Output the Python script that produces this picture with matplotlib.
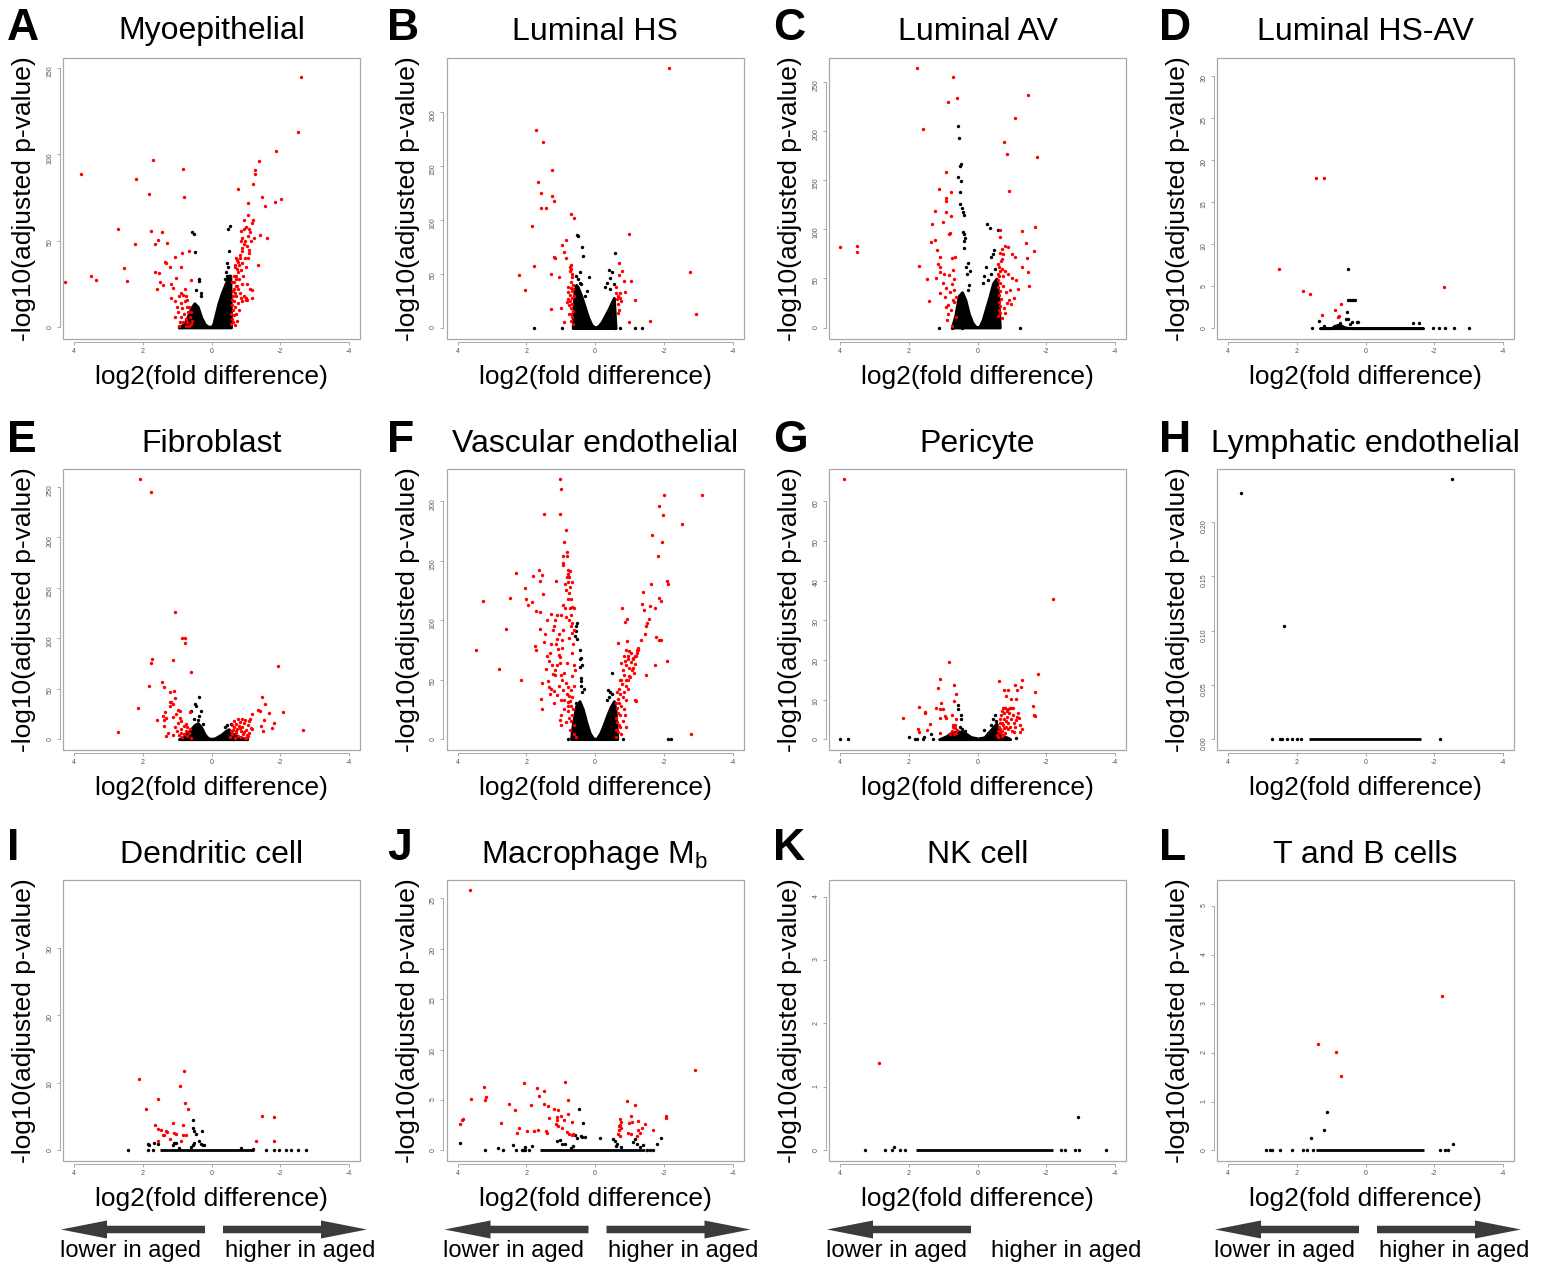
import matplotlib
matplotlib.use("Agg")
import matplotlib.pyplot as plt
from matplotlib.patches import Rectangle, FancyArrow

plt.rcParams['font.family'] = ['Liberation Sans', 'DejaVu Sans']

# panel letters and titles
letters = ["A", "B", "C", "D", "E", "F", "G", "H", "I", "J", "K", "L"]
titles = ["Myoepithelial", "Luminal HS", "Luminal AV", "Luminal HS-AV",
          "Fibroblast", "Vascular endothelial", "Pericyte", "Lymphatic endothelial",
          "Dendritic cell", r"Macrophage M$_\mathregular{b}$", "NK cell", "T and B cells"]

# y axis ticks / limits per panel
yticks = [[0, 50, 100, 150], [0, 50, 100, 150, 200], [0, 50, 100, 150, 200, 250],
          [0, 5, 10, 15, 20, 25, 30], [0, 50, 100, 150, 200, 250], [0, 50, 100, 150, 200],
          [0, 10, 20, 30, 40, 50, 60], [0, 0.05, 0.10, 0.15, 0.20], [0, 10, 20, 30],
          [0, 5, 10, 15, 20, 25], [0, 1, 2, 3, 4], [0, 1, 2, 3, 4, 5]]
ylims = [(-6.4, 155.8), (-9.6, 249.5), (-11.2, 274.5), (-1.23, 32.2), (-10.2, 267.8),
         (-8.7, 227), (-2.6, 68.2), (-0.0095, 0.2488), (-1.53, 40.05), (-1.0, 26.8),
         (-0.158, 4.26), (-0.205, 5.53)]
xticks = [4, 2, 0, -2, -4]

# ---- A: Myoepithelial ----
red_A = [(-2.60, 145), (-2.52, 113), (-1.89, 102), (-1.38, 96), (-1.27, 91), (-1.27, 89), (-1.21, 83),
         (-0.78, 80), (-1.46, 75.5), (-2.02, 74), (-1.84, 72.6), (-1.07, 72), (-1.56, 70), (-1.21, 62),
         (-1.17, 60.6), (-1.10, 57), (-0.95, 56.8), (-1.40, 53.5), (-1.60, 52), (-1.23, 52), (-0.87, 56),
         (-1.35, 36), (-1.18, 21.6), (-1.19, 16.8), (-1.0, 17), (-1.04, 16), (-0.68, 1.4),
         (4.25, 26), (3.80, 88.8), (3.50, 30), (3.37, 27.4), (2.72, 57), (2.56, 34.6), (2.46, 27), (2.20, 86),
         (2.22, 48), (1.83, 77.4), (1.70, 97), (1.75, 56), (1.44, 55.4), (1.56, 50.6), (1.65, 48), (1.29, 48.8),
         (0.83, 91.5), (0.80, 75.3), (0.85, 43), (0.65, 44.4), (1.34, 38), (1.32, 37), (1.21, 35), (1.07, 40.5),
         (0.89, 34.7), (1.63, 32), (1.54, 31.7), (1.50, 26.4), (1.41, 24.5), (1.60, 22.4), (1.17, 25), (1.12, 23),
         (1.02, 28.4), (0.60, 27.4), (1.18, 16.8), (1.07, 15.3),
         (0.95, 18), (0.9, 14), (0.85, 11), (0.8, 8), (0.75, 5), (0.7, 3), (0.65, 1), (0.6, 2), (0.62, 6),
         (0.68, 9), (0.72, 12), (0.78, 15), (0.88, 6), (0.92, 3), (0.98, 9), (1.0, 12), (0.82, 19), (0.7, 16),
         (0.66, 12), (0.6, 9), (0.58, 4), (0.75, 1), (0.84, 3), (0.96, 1), (1.05, 6), (0.9, 20), (0.76, 22),
         (0.73, 18),
         (-0.57, 2), (-0.6, 5), (-0.58, 8), (-0.62, 10), (-0.6, 13), (-0.65, 15), (-0.62, 18), (-0.68, 20),
         (-0.64, 22), (-0.7, 24), (-0.66, 26), (-0.72, 28), (-0.7, 30), (-0.76, 32), (-0.74, 34), (-0.8, 36),
         (-0.78, 38), (-0.84, 40), (-0.82, 42), (-0.88, 44), (-0.9, 46), (-0.94, 48), (-0.98, 50), (-1.02, 47),
         (-0.96, 40), (-0.9, 37), (-0.86, 33), (-0.8, 28), (-0.75, 24), (-0.7, 18), (-0.68, 12), (-0.66, 7),
         (-0.63, 3), (-0.72, 8), (-0.76, 14), (-0.82, 20), (-0.88, 25), (-0.92, 30), (-1.0, 35), (-1.05, 40),
         (-1.08, 45), (-0.73, 4), (-0.8, 10), (-0.9, 15), (-0.95, 18), (-0.85, 17), (-0.78, 22), (-0.74, 39),
         (-0.69, 35), (-1.1, 43), (-1.15, 50), (-1.12, 22), (-1.0, 16), (-1.02, 25), (-0.6, 26), (-0.65, 30),
         (-0.68, 36), (-0.62, 21), (-0.6, 16), (-0.7, 40), (-0.85, 50), (-0.9, 52), (-1.05, 53), (-1.12, 55),
         (-0.94, 62), (-1.05, 65), (-1.0, 58)]
blk_A = [(0.56, 55), (0.50, 54), (0.49, 43.4), (0.37, 28), (0.36, 27), (0.44, 21.6), (0.32, 18), (0.3, 20),
         (-0.53, 58.7), (-0.49, 57), (-0.51, 44), (-0.44, 37), (-0.48, 35), (-0.42, 32), (-0.46, 30),
         (-0.40, 28), (0.95, 0), (0.85, 0.5)]
core_A_x = [0.95, 0.8, 0.7, 0.6, 0.5, 0.4, 0.3, 0.2, 0.1, 0.0, -0.05, -0.1, -0.2, -0.3, -0.4, -0.5, -0.55, -0.57]
core_A_y = [0, 2, 6, 11, 14, 12, 6, 2, 0.5, 0.5, 2, 6, 14, 20, 25, 30, 30, 0]

# ---- B: Luminal HS ----
red_B = [(-2.15, 240), (1.71, 183), (1.52, 171.5), (1.26, 146.5), (1.66, 134.8), (1.57, 125), (1.25, 121.8),
         (1.19, 117.5), (1.57, 111), (1.43, 111), (0.71, 105), (0.61, 101.7), (1.84, 94), (-1.0, 86.6),
         (0.84, 81.3), (0.95, 76.7), (0.89, 70.5), (1.18, 66), (1.16, 64.5), (0.84, 64.6), (1.78, 57.8),
         (2.21, 49.5), (1.29, 50.4), (1.04, 47), (2.03, 35), (-2.75, 51.6), (-2.95, 12.7), (-1.16, 26),
         (-1.04, 43.3), (-0.71, 60), (-0.79, 52.6), (-0.69, 49), (-0.85, 43.3), (-0.87, 33.4), (-0.68, 30),
         (-0.6, 32), (-0.72, 28), (-0.76, 25), (-0.66, 22), (-0.7, 17), (-0.68, 14), (-0.62, 38), (-0.64, 27),
         (-0.73, 32), (-0.99, 5.3), (-1.61, 6.2), (1.28, 17.3), (0.99, 18.2), (0.91, 5.9),
         (0.74, 56), (0.70, 55), (0.72, 53), (0.68, 50), (0.66, 47), (0.71, 43), (0.65, 40), (0.7, 37),
         (0.66, 34), (0.73, 31), (0.68, 28), (0.72, 25), (0.66, 22), (0.7, 19), (0.64, 16), (0.71, 13),
         (0.67, 10), (0.7, 7), (0.65, 4), (0.78, 27), (0.77, 21), (0.75, 13), (0.62, 30), (0.63, 36),
         (0.8, 33), (0.69, 58), (0.82, 24), (0.8, 38)]
blk_B = [(0.53, 85.6), (0.49, 84.7), (0.39, 74.8), (0.34, 67), (0.43, 51.6), (0.17, 47.6), (0.42, 40.8),
         (0.24, 34.6), (0.5, 45), (0.55, 48), (0.45, 42), (0.3, 30), (-0.57, 69.6), (-0.40, 53.8),
         (-0.50, 51.6), (-0.43, 46.4), (-0.55, 40.8), (-0.36, 41.4), (-0.3, 38), (-0.45, 36), (1.78, 0),
         (0.97, 0), (-0.58, 0), (-0.72, 0), (-1.15, 0), (-1.36, 0)]
core_B_x = [0.65, 0.6, 0.55, 0.5, 0.4, 0.3, 0.2, 0.1, 0.0, -0.1, -0.2, -0.3, -0.4, -0.5, -0.55, -0.6]
core_B_y = [0, 35, 40, 38, 30, 20, 10, 3, 0.5, 2, 6, 12, 18, 25, 28, 0]

# ---- C: Luminal AV ----
red_C = [(1.75, 264), (0.72, 255), (0.60, 234), (0.86, 230), (-1.47, 237), (-1.10, 213), (1.59, 202),
         (-0.76, 189), (-0.85, 176.5), (-1.73, 174), (0.92, 158.5), (-0.93, 139.5), (1.11, 141.5), (0.78, 138),
         (0.91, 132), (0.91, 128.6), (1.23, 118.7), (0.91, 117.7), (0.77, 113.6), (1.32, 105.8), (0.99, 107.5),
         (0.81, 96), (0.83, 95), (1.24, 89), (1.34, 86.7), (-1.67, 102.4), (-1.30, 98.3), (-0.64, 99.7),
         (-0.66, 92), (-1.40, 86), (-1.64, 78), (-0.90, 81.6), (-0.8, 83), (-0.66, 76), (-0.75, 75), (-0.99, 75),
         (-1.08, 72), (-1.44, 70.4), (-1.29, 62), (-1.47, 56.8), (-1.50, 42.5), (-1.13, 48.3), (-1.17, 38.8),
         (-0.96, 23.5), (-0.80, 15), (1.17, 79), (1.09, 71.4), (1.15, 64.3), (0.74, 70.4), (0.65, 72),
         (1.70, 63), (1.47, 49), (1.40, 27.2), (1.09, 62), (1.09, 56.8), (0.98, 55), (0.83, 53.7), (1.2, 50),
         (1.0, 45.6), (0.71, 58.5), (0.69, 49.7), (0.93, 40), (0.95, 31), (0.92, 21), (0.85, 14), (0.74, 1.4),
         (1.1, 34.7), (0.86, 22.8), (0.67, 38), (0.62, 31), (0.67, 26), (0.77, 17.7), (0.62, 11), (3.99, 82.3),
         (3.50, 83), (3.50, 77.2), (0.8, 36), (0.75, 44), (0.72, 28), (0.88, 8),
         (-0.6, 65), (-0.62, 62), (-0.64, 58), (-0.6, 55), (-0.63, 52), (-0.61, 48), (-0.64, 45), (-0.6, 41),
         (-0.65, 37), (-0.62, 33), (-0.67, 29), (-0.63, 26), (-0.66, 22), (-0.62, 18), (-0.65, 15), (-0.6, 12),
         (-0.75, 42), (-0.83, 36), (-0.93, 28), (-0.78, 20), (-0.7, 10), (-0.74, 52), (-0.72, 60), (-0.8, 58),
         (-0.9, 55), (-1.0, 50), (-1.05, 30), (-0.85, 25), (-0.95, 38), (-0.68, 68), (-0.7, 80), (-0.72, 70)]
blk_C = [(0.56, 205.4), (0.54, 193.5), (0.48, 167), (0.50, 165), (0.57, 153.7), (0.49, 149), (0.50, 137.8),
         (0.52, 126), (0.45, 122), (0.43, 118), (0.40, 115), (0.42, 97), (0.38, 95), (0.36, 91), (0.39, 88),
         (0.40, 80.6), (0.28, 66), (0.33, 62), (0.23, 58), (0.31, 54), (0.25, 43), (0.28, 38), (-0.28, 105.8),
         (-0.35, 101.7), (-0.59, 99.3), (-0.49, 79), (-0.45, 75), (-0.40, 72), (-0.25, 62), (-0.20, 52),
         (-0.15, 45), (-0.3, 48), (-0.4, 55), (-0.5, 60), (1.12, 0), (-1.24, 0), (0.75, 0), (0.45, 0)]
core_C_x = [0.75, 0.65, 0.55, 0.45, 0.35, 0.25, 0.15, 0.05, -0.05, -0.15, -0.25, -0.35, -0.45, -0.55, -0.6, -0.65]
core_C_y = [0, 12, 32, 36, 28, 14, 5, 0.5, 0.5, 8, 20, 32, 45, 50, 35, 0]

# ---- D: Luminal HS-AV ----
red_D = [(1.44, 17.9), (1.20, 17.9), (2.51, 7.0), (1.83, 4.4), (1.61, 4.1), (-2.27, 4.9), (0.71, 2.9),
         (0.88, 2.2), (1.28, 1.6), (0.76, 1.43), (0.80, 1.3)]
blk_D = [(0.52, 7.0), (0.5, 3.4), (0.45, 3.4), (0.40, 3.4), (0.35, 3.4), (0.31, 3.4), (0.55, 1.9),
         (0.57, 1.1), (0.50, 1.1), (1.34, 0.83), (0.26, 0.71), (0.22, 0.71), (1.22, 0.3), (0.8, 0.4),
         (0.75, 0.6), (0.7, 0.3), (-1.38, 0.6), (-1.57, 0.6), (-1.96, 0), (-2.13, 0), (-2.31, 0), (-2.58, 0),
         (-3.0, 0), (1.57, 0), (0.45, 0.5), (0.4, 0.7)]
core_D_x = [1.32, 1.0, 0.9, 0.75, 0.6, 0.4, -1.67]
core_D_y = [0, 0, 0.3, 0.4, 0.1, 0, 0]

# ---- E: Fibroblast ----
red_E = [(2.09, 257.6), (1.77, 244.7), (1.06, 126), (0.85, 100.4), (0.78, 100), (0.76, 95.4), (1.72, 79.3),
         (1.77, 76), (1.11, 78.6), (0.61, 66.4), (-1.92, 73), (1.81, 53.2), (1.44, 56.8), (1.37, 51.8),
         (1.22, 47.2), (1.10, 47.6), (1.05, 40.6), (2.15, 30.7), (2.71, 7), (1.2, 37), (1.17, 36.7), (1.13, 35),
         (1.22, 32.7), (1.35, 27.4), (0.98, 29.4), (0.93, 27.7), (1.03, 25.4), (0.63, 26.7), (1.42, 22.8),
         (1.32, 21), (1.39, 19.5), (1.58, 19.5), (1.12, 22), (0.93, 21), (0.88, 18), (0.97, 16), (0.81, 13.5),
         (1.37, 13), (1.27, 6.3), (1.12, 4.6), (0.88, 6.3), (0.74, 8), (1.32, 3), (0.9, 10), (0.8, 5), (0.7, 3),
         (0.65, 6), (0.62, 10), (0.7, 12), (0.75, 15), (0.85, 2), (1.0, 8), (1.05, 12), (0.95, 4), (0.6, 1.5),
         (-1.46, 42), (-1.57, 34.7), (-1.35, 29.4), (-1.42, 27.7), (-1.67, 26.1), (-2.08, 26.7), (-1.18, 25.4),
         (-1.54, 18.8), (-1.83, 16.2), (-1.77, 11.2), (-1.49, 8.6), (-2.65, 9.2), (-1.43, 13.5), (-1.18, 9.7),
         (-1.06, 3), (-1.01, 1.3),
         (-0.55, 2), (-0.6, 5), (-0.62, 9), (-0.65, 12), (-0.7, 15), (-0.72, 6), (-0.75, 10), (-0.78, 3),
         (-0.8, 13), (-0.82, 17), (-0.85, 8), (-0.88, 20), (-0.9, 12), (-0.92, 5), (-0.95, 16), (-0.98, 19),
         (-1.0, 9), (-1.05, 14), (-1.08, 18), (-1.1, 6), (-1.15, 11), (-0.68, 1), (-0.58, 8), (-0.66, 18),
         (-0.76, 20), (-0.86, 2), (-0.96, 1), (-1.12, 20), (-0.6, 14), (-0.7, 8), (-0.84, 11), (-0.94, 7),
         (-1.02, 4)]
blk_E = [(0.35, 41.6), (0.49, 35), (0.45, 33), (0.30, 27.7), (0.37, 22.8), (0.59, 27.7), (0.5, 20), (0.4, 19),
         (0.25, 15), (-0.57, 15), (-0.45, 14), (-0.38, 12), (-1.03, 0), (-0.62, 0)]
core_E_x = [0.95, 0.8, 0.65, 0.5, 0.4, 0.3, 0.2, 0.1, 0.0, -0.1, -0.2, -0.3, -0.4, -0.5, -0.6, -0.8, -1.0]
core_E_y = [0, 3, 8, 14, 16, 12, 5, 1, 0.5, 1, 3, 5, 8, 10, 6, 2, 0]

# ---- F: Vascular endothelial ----
red_F = [(1.02, 218.8), (0.99, 210.4), (1.02, 189), (1.48, 189), (0.85, 175.6), (0.89, 165.5), (0.82, 157.4),
         (0.92, 154.3), (0.81, 153.8), (0.94, 148), (0.92, 146.5), (0.78, 142), (0.73, 141), (0.8, 139),
         (0.82, 136), (0.75, 136), (0.8, 132), (0.68, 132), (0.72, 128), (0.76, 123), (0.7, 118), (0.66, 111),
         (0.72, 110), (0.6, 110.5), (0.88, 110), (0.92, 113), (0.98, 104), (0.84, 102.8), (0.69, 104),
         (0.66, 98), (0.61, 92), (0.68, 89), (0.92, 92), (0.97, 83), (1.10, 84), (0.95, 76.7), (1.06, 71),
         (1.03, 64), (0.81, 64), (0.66, 53), (0.9, 56), (1.0, 54), (0.95, 50), (0.85, 47), (0.8, 44), (0.7, 41),
         (0.92, 41), (0.82, 38), (0.75, 36), (1.0, 33), (0.9, 33), (0.8, 31), (0.7, 28), (0.9, 25), (0.8, 24),
         (0.68, 20), (0.75, 18), (0.7, 15), (0.85, 14), (0.6, 12), (0.72, 8), (0.6, 4), (0.55, 2), (0.78, 28),
         (0.72, 32), (0.65, 25), (0.68, 35), (0.62, 45), (0.58, 58), (0.62, 62), (0.66, 72), (0.65, 80),
         (0.75, 85), (0.7, 95), (0.75, 100), (0.8, 118), (0.85, 125), (0.88, 130),
         (2.30, 140), (1.63, 142.3), (1.79, 137.5), (1.55, 137.8), (1.60, 132.5), (1.13, 133), (2.05, 126.6),
         (2.0, 117.4), (1.96, 112.6), (1.83, 115.4), (2.48, 119), (1.51, 121.6), (3.27, 116.2), (1.71, 107.6),
         (1.60, 107), (1.29, 105.3), (1.41, 100), (1.16, 99.7), (1.10, 104), (1.6, 92.7), (2.59, 92.2),
         (1.22, 91.6), (1.47, 82), (1.27, 80), (1.14, 80), (1.75, 77.9), (1.71, 74.5), (3.47, 74.8), (1.08, 76),
         (1.02, 69), (1.39, 69.7), (1.34, 65.5), (1.1, 62), (2.79, 59), (1.43, 59), (1.22, 55), (1.17, 53.5),
         (2.16, 49.3), (1.36, 48.7), (1.53, 47.3), (1.27, 42.3), (1.19, 40.3), (1.56, 33.9), (1.3, 38),
         (1.35, 44), (1.55, 25), (1.0, 20), (1.02, 16.5), (1.0, 12.3), (1.2, 30), (1.1, 37), (1.05, 45),
         (1.15, 58), (1.25, 62), (1.3, 72), (1.45, 88), (1.2, 95), (1.05, 88),
         (-2.0, 205), (-3.10, 205), (-1.86, 195.5), (-1.99, 188), (-2.54, 181), (-1.65, 171.4), (-1.94, 165.8),
         (-1.84, 154), (-2.10, 133), (-2.13, 130.5), (-1.64, 130), (-1.40, 123.5), (-1.86, 119), (-1.91, 116),
         (-1.36, 113.4), (-1.60, 112.3), (-1.75, 110.4), (-1.43, 108.4), (-0.79, 110.6), (-1.57, 100.6),
         (-1.52, 97.8), (-1.47, 95), (-0.94, 101), (-0.88, 98.6), (-1.45, 88.5), (-1.33, 83), (-1.78, 85.7),
         (-1.86, 83), (-1.93, 83), (-0.94, 82.4), (-0.68, 80.4), (-2.09, 66), (-1.75, 62), (-1.49, 53.8),
         (-1.26, 77), (-1.23, 75), (-1.21, 72), (-1.16, 70), (-1.11, 67), (-0.9, 75), (-0.83, 70), (-0.97, 67),
         (-1.06, 65), (-0.75, 64), (-1.1, 60), (-1.13, 56), (-0.98, 53), (-0.9, 50), (-2.80, 4.2),
         (-0.6, 2), (-0.62, 8), (-0.65, 14), (-0.6, 18), (-0.68, 22), (-0.64, 26), (-0.7, 30), (-0.66, 34),
         (-0.74, 38), (-0.7, 42), (-0.78, 46), (-0.75, 50), (-0.84, 54), (-0.8, 58), (-0.9, 62), (-0.86, 66),
         (-0.95, 70), (-1.0, 74), (-1.05, 72), (-1.1, 68), (-1.0, 60), (-0.95, 50), (-0.9, 45), (-0.85, 40),
         (-0.8, 35), (-0.75, 28), (-0.72, 20), (-0.7, 12), (-0.68, 6), (-0.8, 15), (-0.85, 25), (-0.9, 33),
         (-0.96, 42), (-1.02, 52), (-1.08, 58), (-1.15, 63), (-1.2, 70), (-1.25, 75), (-0.74, 10), (-0.76, 4),
         (-0.88, 20), (-1.15, 32.6), (-1.2, 32), (-0.9, 10), (-0.62, 30), (-0.65, 40), (-0.72, 50)]
blk_F = [(0.51, 97.8), (0.55, 95), (0.56, 91), (0.58, 87), (0.53, 84), (0.45, 75), (0.42, 68), (0.44, 67),
         (0.37, 62.7), (0.44, 61), (0.4, 51), (0.42, 49), (0.41, 45), (0.32, 42), (0.38, 40), (-0.50, 55.7),
         (-0.39, 41.7), (-0.45, 40), (-0.36, 33), (-0.42, 35), (-0.5, 38), (-2.12, 0), (-2.22, 0.5), (-0.8, 0),
         (0.8, 0), (0.55, 30), (0.5, 28)]
core_F_x = [0.7, 0.65, 0.55, 0.45, 0.35, 0.25, 0.15, 0.05, -0.05, -0.15, -0.25, -0.35, -0.45, -0.55, -0.6, -0.65]
core_F_y = [0, 12, 28, 32, 25, 14, 5, 0.5, 0.5, 5, 12, 20, 27, 32, 24, 0]

# ---- G: Pericyte ----
red_G = [(3.88, 65.6), (-2.20, 35.5), (0.83, 19.6), (1.08, 15.2), (0.69, 13.7), (1.14, 12.9), (0.63, 11.5),
         (1.06, 9.2), (0.67, 9.7), (1.69, 8.1), (1.22, 7.9), (1.08, 7.6), (1.01, 7.6), (1.54, 6.8), (1.52, 6.7),
         (2.16, 5.4), (1.08, 5.4), (0.96, 5.8), (0.91, 5.4), (0.74, 6.2), (0.62, 5.1), (1.39, 3.9), (1.74, 2.7),
         (1.71, 1.9), (1.47, 2.4), (1.08, 1.6), (0.7, 3.7), (0.65, 2.8), (0.6, 2.2), (0.75, 2.0), (0.62, 1.6),
         (0.68, 1.2), (0.8, 1.2), (0.72, 3.2), (0.66, 3.5),
         (-0.63, 14.8), (-1.75, 16.5), (-1.30, 15), (-1.09, 13.6), (-0.77, 12.4), (-0.88, 12.4), (-0.83, 10.8),
         (-1.14, 12.4), (-1.27, 13.2), (-1.68, 11.8), (-0.97, 10.2), (-1.13, 10.2), (-1.62, 8.5), (-0.74, 7.9),
         (-0.79, 7.9), (-0.98, 7.9), (-1.03, 7.9), (-1.64, 6), (-1.67, 5.8), (-1.17, 6.6), (-1.21, 5.4),
         (-1.11, 4.8), (-1.23, 1.8), (-1.06, 1.8),
         (-0.58, 1), (-0.6, 2), (-0.62, 3), (-0.64, 4), (-0.66, 5), (-0.68, 6), (-0.7, 7), (-0.72, 2),
         (-0.74, 3.5), (-0.76, 5), (-0.78, 6.5), (-0.8, 1.5), (-0.82, 3), (-0.84, 4.5), (-0.86, 5.5),
         (-0.88, 2.5), (-0.9, 4), (-0.92, 6.5), (-0.95, 3), (-0.98, 5), (-1.0, 2), (-0.65, 1.5), (-0.7, 0.8),
         (-0.75, 1), (-0.6, 0.5), (-0.78, 2.8), (-0.66, 2.5), (-0.72, 4.2), (-0.85, 7), (-0.8, 8), (-0.9, 7.5),
         (-0.95, 7.8), (-1.02, 6), (-1.05, 4), (-1.1, 3), (-1.15, 5.5), (-1.25, 3.5), (-1.3, 2.5)]
blk_G = [(4.0, 0), (3.77, 0), (1.98, 0.6), (1.83, 0), (1.77, 0), (1.59, 0), (1.56, 0.5), (1.35, 1.2), (1.30, 0),
         (0.56, 8.7), (0.57, 7.6), (0.47, 6.2), (0.49, 5), (0.52, 3), (0.45, 2.5), (0.35, 2), (-0.18, 2.4),
         (-0.3, 1.6), (-0.4, 3.7), (-0.45, 5), (-0.5, 6), (-0.55, 4.5), (-1.12, 0.3), (-0.48, 3.2)]
core_G_x = [1.12, 0.9, 0.8, 0.6, 0.4, 0.2, 0.0, -0.2, -0.4, -0.5, -0.55, -0.6, -0.7, -0.9, -0.95]
core_G_y = [0, 0.8, 1.5, 2, 1.8, 0.6, 0.2, 0.5, 2.5, 3.5, 4, 2.5, 1, 0.3, 0]

# ---- H: Lymphatic endothelial ----
red_H = []
blk_H = [(3.61, 0.2264), (-2.51, 0.2399), (2.37, 0.1046), (2.72, 0), (2.49, 0), (2.42, 0), (2.27, 0),
         (2.13, 0), (2.0, 0), (1.88, 0), (-2.17, 0)]
core_H_x = [1.65, -1.6]
core_H_y = [0, 0]

# ---- I: Dendritic cell ----
red_I = [(2.10, 10.5), (0.81, 11.8), (0.93, 9.5), (1.55, 7.6), (0.77, 7.0), (0.67, 6.1), (1.90, 6.1),
         (-1.46, 5.0), (-1.82, 4.9), (1.13, 4.0), (0.82, 3.8), (1.63, 3.7), (1.55, 3.2), (1.47, 3.0),
         (1.32, 2.9), (1.30, 2.7), (1.38, 2.3), (1.41, 2.2), (1.09, 2.5), (1.04, 2.4), (1.20, 1.7), (0.84, 2.3),
         (0.75, 2.3), (0.89, 1.4), (1.57, 1.4), (-1.29, 1.3), (-1.82, 1.3)]
blk_I = [(0.53, 4.4), (0.54, 3.3), (0.28, 2.8), (0.5, 2.9), (0.45, 2.4), (0.36, 1.4), (0.31, 0.9), (0.26, 0.7),
         (0.21, 0.7), (1.86, 0.9), (1.81, 0.8), (1.67, 1.0), (1.55, 0.9), (1.13, 0.8), (1.08, 1.0), (1.03, 1.0),
         (0.5, 1.0), (0.55, 0.7), (-0.85, 0.3), (-1.21, 0.2), (2.42, 0), (1.84, 0), (1.69, 0), (-1.58, 0),
         (-1.82, 0), (-1.95, 0), (-2.16, 0), (-2.31, 0), (-2.52, 0), (-2.75, 0), (0.95, 0.3), (0.6, 0.4)]
core_I_x = [1.5, -1.25]
core_I_y = [0, 0]

# ---- J: Macrophage Mb ----
red_J = [(3.65, 25.76), (-2.91, 8.0), (0.87, 6.75), (2.07, 6.66), (3.22, 6.32), (1.68, 6.23), (1.47, 5.93),
         (1.63, 5.36), (3.17, 5.26), (3.19, 5.0), (3.62, 5.1), (-0.94, 4.93), (0.79, 5.03), (2.50, 4.64),
         (1.85, 4.54), (1.48, 4.57), (1.38, 4.44), (-1.17, 4.54), (2.34, 4.04), (1.19, 4.14), (1.07, 3.97),
         (0.80, 3.58), (-1.06, 3.44), (1.35, 3.25), (1.11, 3.31), (0.99, 3.38), (-2.07, 3.38), (-2.07, 3.18),
         (3.84, 3.15), (3.87, 3.05), (-0.72, 3.15), (-0.77, 2.81), (2.73, 2.72), (1.11, 2.98), (0.89, 2.98),
         (0.68, 2.81), (-1.24, 2.91), (3.94, 2.65), (1.14, 2.58), (1.08, 2.38), (-1.08, 2.81), (-1.0, 2.72),
         (-0.73, 2.55), (-1.45, 2.62), (2.20, 2.25), (0.97, 2.25), (-1.37, 2.22), (-0.71, 2.4), (-0.75, 2.2),
         (-0.69, 2.05), (-1.25, 1.99), (-1.31, 1.72), (-1.69, 2.02), (1.99, 1.92), (1.77, 1.92), (1.65, 1.99),
         (2.26, 1.72), (1.43, 1.92), (1.40, 1.72), (0.82, 1.82), (0.77, 1.66), (0.68, 1.49), (0.63, 1.66),
         (-0.67, 1.66), (-0.73, 1.39), (-0.97, 1.72), (-1.05, 1.66), (-1.22, 1.4)]
blk_J = [(3.92, 0.76), (0.46, 4.07), (0.34, 2.72), (0.4, 1.4), (0.37, 1.3), (0.3, 1.3), (0.58, 1.5), (0.53, 1.2),
         (1.01, 1.0), (1.11, 0.9), (0.97, 0.66), (0.87, 0.66), (-0.15, 1.26), (-0.53, 1.16), (-0.58, 0.9),
         (-0.63, 0.66), (-1.16, 1.16), (-1.21, 0.66), (-1.11, 0.8), (-1.92, 1.26), (-1.79, 0.66), (2.39, 0.56),
         (2.05, 0.33), (2.1, 0.06), (3.2, 0), (2.81, 0.26), (2.69, 0), (2.30, 0), (2.13, 0), (2.03, 0),
         (1.92, 0), (1.84, 0.4), (-1.5, 0), (-1.6, 0), (-1.7, 0), (0.65, 0.4), (0.7, 0.2), (-0.6, 0.4),
         (-0.75, 0.3), (-1.3, 0.3), (-1.4, 0.5)]
core_J_x = [1.6, -1.45]
core_J_y = [0, 0]

# ---- K: NK cell ----
red_K = [(2.86, 1.38)]
blk_K = [(-2.91, 0.52), (2.42, 0.05), (3.26, 0), (2.69, 0), (2.50, 0), (2.25, 0), (2.10, 0), (-2.42, 0),
         (-2.55, 0), (-2.83, 0), (-2.95, 0), (-3.75, 0)]
core_K_x = [1.8, -2.2]
core_K_y = [0, 0]

# ---- L: T and B cells ----
red_L = [(-2.23, 3.15), (1.38, 2.17), (0.87, 2.02), (0.72, 1.52)]
blk_L = [(1.12, 0.78), (1.21, 0.41), (1.60, 0.26), (-2.54, 0.13), (2.89, 0), (2.79, 0), (2.73, 0), (2.49, 0),
         (2.15, 0), (1.81, 0), (1.71, 0), (1.54, 0), (-2.16, 0), (-2.30, 0), (-2.41, 0)]
core_L_x = [1.45, -1.7]
core_L_y = [0, 0]

reds = [red_A, red_B, red_C, red_D, red_E, red_F, red_G, red_H, red_I, red_J, red_K, red_L]
blks = [blk_A, blk_B, blk_C, blk_D, blk_E, blk_F, blk_G, blk_H, blk_I, blk_J, blk_K, blk_L]
cores = [(core_A_x, core_A_y), (core_B_x, core_B_y), (core_C_x, core_C_y), (core_D_x, core_D_y),
         (core_E_x, core_E_y), (core_F_x, core_F_y), (core_G_x, core_G_y), (core_H_x, core_H_y),
         (core_I_x, core_I_y), (core_J_x, core_J_y), (core_K_x, core_K_y), (core_L_x, core_L_y)]

# layout in pixels
W, H = 1546, 1268
col_left = [63, 446.5, 829, 1217]
col_w = 297
row_top = [58, 469, 880]
row_h = 280.5
letter_x = [7, 387, 773, 1159]
letter_base = [40, 452, 860]
title_base = [39.5, 452, 863]
show_right_arrow = [True, True, False, True]

fig = plt.figure(figsize=(W / 100, H / 100), dpi=100)
GRAY = '#9a9a9a'

for i in range(12):
    r, c = divmod(i, 4)
    ax = fig.add_axes([col_left[c] / W, 1 - (row_top[r] + row_h) / H, col_w / W, row_h / H])
    cx, cy = cores[i]
    ax.fill_between(cx, 0, cy, color='black', lw=2, zorder=2)
    if blks[i]:
        bx, by = zip(*blks[i])
        ax.scatter(bx, by, s=6, c='black', linewidths=0, zorder=3)
    if reds[i]:
        rx, ry = zip(*reds[i])
        ax.scatter(rx, ry, s=6, c='red', linewidths=0, zorder=4)

    ax.set_xlim(4.32, -4.32)
    ax.set_ylim(ylims[i])
    ax.set_xticks(xticks)
    ax.set_xticklabels([str(v) for v in xticks])
    yt = yticks[i]
    ax.set_yticks(yt)
    if i == 7:
        ax.set_yticklabels(["%.2f" % v for v in yt])
    else:
        ax.set_yticklabels([str(v) for v in yt])
    for s in ['top', 'right']:
        ax.spines[s].set_visible(False)
    ax.spines['left'].set_position(('outward', 2.5))
    ax.spines['bottom'].set_position(('outward', 2.5))
    ax.spines['left'].set_bounds(yt[0], yt[-1])
    ax.spines['bottom'].set_bounds(-4, 4)
    for s in ['left', 'bottom']:
        ax.spines[s].set_color(GRAY)
        ax.spines[s].set_linewidth(0.6)
    ax.add_patch(Rectangle((0, 0), 1, 1, transform=ax.transAxes, fill=False,
                           ec='#a8a8a8', lw=0.9, clip_on=False, zorder=5))
    ax.tick_params(direction='out', length=2.4, width=0.6, color=GRAY,
                   labelsize=5, labelcolor='#555555', pad=2)
    ax.tick_params(axis='y', labelrotation=90)

    ax.text(0.5, -0.136, "log2(fold difference)", transform=ax.transAxes,
            ha='center', va='center', fontsize=19)
    ax.text(-0.13, 0.5, "-log10(adjusted p-value)", transform=ax.transAxes,
            ha='center', va='center', rotation=90, fontsize=19)

# overlay in pixel units for letters, titles and arrows
ov = fig.add_axes([0, 0, 1, 1])
ov.set_xlim(0, W)
ov.set_ylim(H, 0)
ov.axis('off')

for i in range(12):
    r, c = divmod(i, 4)
    ov.text(letter_x[c], letter_base[r], letters[i], fontsize=32, fontweight='bold',
            ha='left', va='baseline')
    ov.text(col_left[c] + col_w / 2, title_base[r], titles[i], fontsize=23,
            ha='center', va='baseline')

ARROW = '#3b3b3b'
for c in range(4):
    x0 = col_left[c] - 2
    ov.add_patch(FancyArrow(x0 + 144, 1229.5, -144, 0, width=7.5, head_width=18, head_length=46,
                            length_includes_head=True, color=ARROW, lw=0))
    if show_right_arrow[c]:
        ov.add_patch(FancyArrow(x0 + 162, 1229.5, 144, 0, width=7.5, head_width=18, head_length=46,
                                length_includes_head=True, color=ARROW, lw=0))
    ov.text(x0 + 69, 1257, "lower in aged", fontsize=17, ha='center', va='baseline')
    ov.text(x0 + 239, 1257, "higher in aged", fontsize=17, ha='center', va='baseline')

fig.savefig("out.png", dpi=100)
